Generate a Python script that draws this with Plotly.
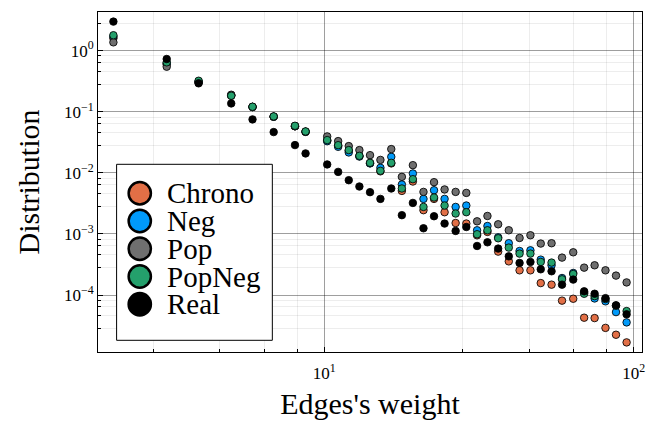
import numpy as np
import plotly.graph_objects as go

# ---------------- data ----------------
weights = [2.085, 3.10, 3.93, 5.01, 5.87, 6.87, 8.05, 8.71,
           10.23, 11.10, 12.01, 13.0, 14.07, 15.2, 16.48, 17.83, 19.35, 20.94,
           22.65, 24.5, 26.6, 28.8, 31.2, 33.7, 36.5, 39.5, 42.8, 46.4,
           50.1, 54.3, 58.7, 63.8, 69.2, 74.8, 81.1, 87.7, 94.9]

chrono = [1.6, 0.6, 0.31, 0.183, 0.12, 0.083, 0.058, 0.047,
          0.034, 0.028, 0.023, 0.0188, 0.0144, 0.0106, 0.0143, 0.00507, 0.00722, 0.00245,
          0.00375, 0.00227, 0.00151, 0.00148, 0.00095, 0.00108, 0.000514, 0.000356, 0.000254, 0.000254,
          0.000157, 0.000148, 8.1e-5, 8.7e-5, 4.26e-5, 4.2e-5, 2.9e-5, 2.24e-5, 1.68e-5]

neg = [1.7, 0.62, 0.31, 0.186, 0.12, 0.083, 0.058, 0.047,
       0.033, 0.0267, 0.0216, 0.0185, 0.0143, 0.0121, 0.0183, 0.00645, 0.00977, 0.00375,
       0.0052, 0.00375, 0.00277, 0.00292, 0.00115, 0.00135, 0.00088, 0.000705, 0.000526, 0.00054,
       0.00038, 0.000307, 0.00019, 0.00023, 0.00011, 8.8e-5, 7.9e-5, 5.26e-5, 3.57e-5]

pop = [1.37, 0.547, 0.30, 0.19, 0.12, 0.083, 0.058, 0.047,
       0.0395, 0.0331, 0.0274, 0.0236, 0.0195, 0.0163, 0.0245, 0.0086, 0.01337, 0.00488,
       0.00704, 0.00535, 0.00488, 0.0047, 0.00161, 0.00197, 0.00144, 0.00115, 0.00086, 0.000952,
       0.000696, 0.000705, 0.00041, 0.000501, 0.000281, 0.000307, 0.000254, 0.000208, 0.000161]

popneg = [1.79, 0.645, 0.322, 0.183, 0.121, 0.084, 0.059, 0.0477,
          0.0344, 0.0284, 0.0236, 0.019, 0.0146, 0.0108, 0.0146, 0.00555, 0.00788, 0.00277,
          0.00395, 0.00292, 0.00216, 0.00227, 0.00099, 0.00115, 0.00085, 0.000598, 0.000477, 0.000477,
          0.000348, 0.00034, 0.000181, 0.000221, 0.000105, 9.6e-5, 8.6e-5, 6.7e-5, 5.47e-5]

real = [2.99, 0.731, 0.292, 0.137, 0.075, 0.0465, 0.0285, 0.0208,
        0.01374, 0.01038, 0.00759, 0.00598, 0.00483, 0.00375, 0.00555, 0.00203, 0.00322, 0.00124,
        0.00195, 0.00148, 0.00112, 0.0013, 0.000636, 0.00073, 0.000576, 0.00043, 0.000335, 0.000348,
        0.000264, 0.000245, 0.000148, 0.000179, 0.000115, 0.000105, 8.9e-5, 6.8e-5, 4.83e-5]

series_names = ["Chrono", "Neg", "Pop", "PopNeg", "Real"]
series_values = [chrono, neg, pop, popneg, real]
series_colors = ["#E26F46", "#009AFA", "#6F6F6F", "#24A06C", "#000000"]

x_tick_vals = [10, 100]
x_tick_text = ["10<sup>1</sup>", "10<sup>2</sup>"]
y_tick_vals = [1, 0.1, 0.01, 0.001, 0.0001]
y_tick_text = ["10<sup>0</sup>", "10<sup>\u22121</sup>", "10<sup>\u22122</sup>",
               "10<sup>\u22123</sup>", "10<sup>\u22124</sup>"]
minor_mult = [2.8, 4.6, 6.4, 8.2]

x_title = "Edges's weight"
y_title = "Distribution"

# ---------------- figure ----------------
FONT = "Liberation Serif"
W_FIG, H_FIG = 647, 421
ML, MR, MT, MB = 98, 2, 12, 69
PW, PH = W_FIG - ML - MR, H_FIG - MT - MB

fig = go.Figure()
for name, vals, col in zip(series_names, series_values, series_colors):
    fig.add_trace(go.Scatter(
        x=weights, y=vals, mode="markers", name=name, showlegend=False,
        marker=dict(size=7.5, color=col, line=dict(color="rgba(0,0,0,0.85)", width=1)),
    ))

# axis ranges: data extent padded by 3% in log space
lx = np.log10(weights)
ally = np.log10(np.concatenate([np.array(v) for v in series_values]))
xpad = 0.03 * (lx.max() - lx.min())
ypad = 0.03 * (ally.max() - ally.min())
xr = [lx.min() - xpad, lx.max() + xpad]
yr = [ally.min() - ypad, ally.max() + ypad]

x_minor = [m * 10 ** k for k in range(0, 2) for m in minor_mult]
y_minor = [m * 10 ** k for k in range(-5, 1) for m in minor_mult
           if yr[0] < np.log10(m * 10 ** k) < yr[1]]

axis_common = dict(
    type="log", showline=True, mirror=True, linecolor="black", linewidth=1,
    ticks="inside", ticklen=5, tickwidth=1, tickcolor="black",
    showgrid=True, gridcolor="rgba(0,0,0,0.38)", gridwidth=1, zeroline=False,
    tickfont=dict(family=FONT, size=17, color="black"),
    ticklabeloverflow="allow",
)

fig.update_layout(
    width=W_FIG, height=H_FIG,
    margin=dict(l=ML, r=MR, t=MT, b=MB, pad=0),
    paper_bgcolor="white", plot_bgcolor="white",
    font=dict(family=FONT, color="black"),
    xaxis=dict(**axis_common, range=xr, tickvals=x_tick_vals, ticktext=x_tick_text,
               ticklabelstandoff=6,
               minor=dict(tickvals=x_minor, ticks="inside", ticklen=3, tickcolor="black",
                          showgrid=True, gridcolor="rgba(0,0,0,0.07)", gridwidth=1),
               title=dict(text=x_title, font=dict(family=FONT, size=30, color="black"), standoff=10)),
    yaxis=dict(**axis_common, range=yr, tickvals=y_tick_vals, ticktext=y_tick_text,
               minor=dict(tickvals=y_minor, ticks="inside", ticklen=3, tickcolor="black",
                          showgrid=True, gridcolor="rgba(0,0,0,0.07)", gridwidth=1),
               title=dict(text=y_title, font=dict(family=FONT, size=30, color="black"), standoff=15)),
)

# ---------------- legend (box, markers, labels) ----------------
def px2x(px):
    return (px - ML) / PW

def py2y(py):
    return (MT + PH - py) / PH

box = dict(x0=116.7, x1=273.3, y0=164.3, y1=340.3)
fig.add_shape(type="rect", xref="paper", yref="paper",
              x0=px2x(box["x0"]), x1=px2x(box["x1"]), y0=py2y(box["y1"]), y1=py2y(box["y0"]),
              line=dict(color="black", width=1), fillcolor="white", layer="above")

row0, row_step, r = 193.3, 27.75, 11.2
cx = 140.0
for i, (name, col) in enumerate(zip(series_names, series_colors)):
    cy = row0 + i * row_step
    fig.add_shape(type="circle", xref="paper", yref="paper",
                  x0=px2x(cx - r), x1=px2x(cx + r), y0=py2y(cy + r), y1=py2y(cy - r),
                  fillcolor=col, line=dict(color="black", width=2.5), layer="above")
    fig.add_annotation(x=px2x(165), y=py2y(cy), xref="paper", yref="paper",
                       text=name, showarrow=False, xanchor="left", yanchor="middle",
                       font=dict(family=FONT, size=29, color="black"))

fig.write_html("out.html")
